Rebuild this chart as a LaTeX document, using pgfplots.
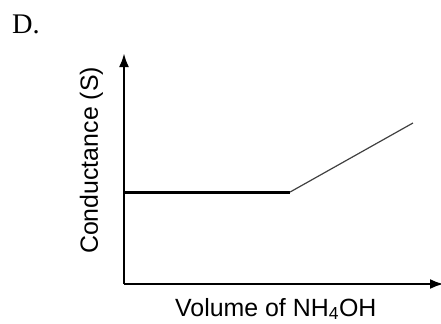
\documentclass[border=0pt]{standalone}
\usepackage{fontspec}
\setmainfont{Liberation Sans}
\newfontfamily\serifD{Liberation Serif}
\usepackage{pgfplots}
\pgfplotsset{compat=1.18}
\usetikzlibrary{arrows.meta}
\begin{document}
\begin{tikzpicture}[x=1bp,y=1bp]
\useasboundingbox (0,0) rectangle (441,323);
\node[anchor=base west,inner sep=0] at (12,290) {\fontsize{28.5}{28.5}\selectfont\serifD D.};
\begin{axis}[
  at={(124bp,39bp)}, anchor=south west,
  scale only axis, width=320bp, height=231bp,
  xmin=0, xmax=10.1, ymin=0, ymax=10,
  axis lines=left,
  axis line style={line width=2.6bp, -{Latex[length=14bp,width=10bp]}},
  ticks=none,
  clip=false,
  label style={font=\fontsize{25}{25}\selectfont},
  xlabel={Volume of NH\textsubscript{4}OH},
  ylabel={Conductance (S)},
  xlabel style={at={(axis cs:4.79,0)}, anchor=base, yshift=-32bp},
  ylabel style={at={(rel axis cs:-0.082,0.535)}, anchor=base, rotate=0},
]
\addplot[black, line width=3bp] coordinates {(0,3.98) (5.24,3.98)};
\addplot[black!75, line width=1.2bp] coordinates {(5.24,3.98) (9.12,6.97)};
\end{axis}
\end{tikzpicture}
\end{document}
